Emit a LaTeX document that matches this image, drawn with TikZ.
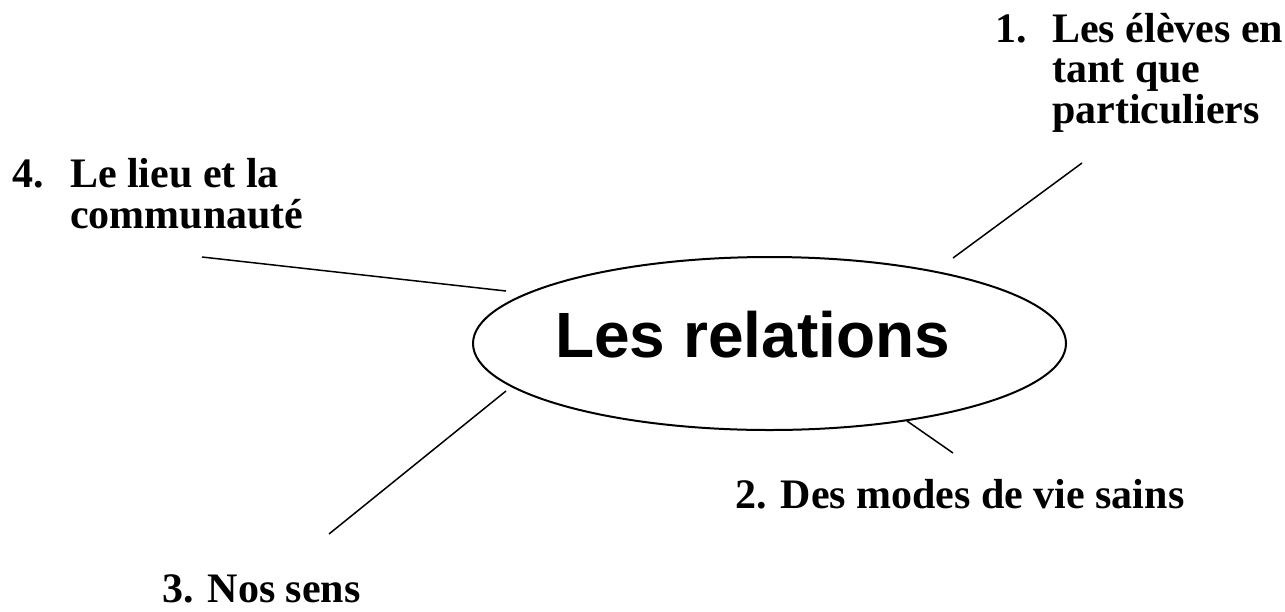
\documentclass[tikz,border=0pt]{standalone}
\usepackage{fontspec}
\setmainfont{Liberation Serif}
\newfontfamily\headfont{Liberation Sans}
\usetikzlibrary{shapes.geometric}
\begin{document}
\begin{tikzpicture}[x=1pt,y=-1pt,
        topic/.style={anchor=base west,inner sep=0pt,font=\bfseries\fontsize{42}{40}\selectfont},
        spoke/.style={line width=1.5pt}]
        \useasboundingbox (0,0) rectangle (1285,611);
        %% Centre
        \node[draw,ellipse,line width=2pt,minimum width=593pt,minimum height=173pt,inner sep=0pt] (rel) at (769.5,343.5) {};
        \node[anchor=base west,inner sep=0pt,font=\headfont\bfseries\fontsize{64}{64}\selectfont] (title) at (555,357) {Les relations};
        %% Topics
        \node[topic] (eleves) at (995,42) {\begin{tabular}[t]{@{}p{57pt}@{}l@{}}1. & Les élèves en\\ & tant que\\ & particuliers\end{tabular}};
        \node[topic] (lieu) at (12,187) {\begin{tabular}[t]{@{}p{58pt}@{}l@{}}4. & Le lieu et la\\ & communauté\end{tabular}};
        \node[topic] (modes) at (735,508) {2. Des modes de vie sains};
        \node[topic] (sens) at (162,602) {3. Nos sens};
        %% Spokes
        \coordinate (e1) at (953,258);
        \coordinate (f1) at (1082,163);
        \coordinate (e4) at (506,291);
        \coordinate (f4) at (202,257);
        \coordinate (e3) at (506,391);
        \coordinate (f3) at (329,534);
        \coordinate (e2) at (907,421);
        \coordinate (f2) at (953,453);
        \draw[spoke] (e1) -- (f1);
        \draw[spoke] (e4) -- (f4);
        \draw[spoke] (e3) -- (f3);
        \draw[spoke] (e2) -- (f2);
    \end{tikzpicture}
\end{document}
